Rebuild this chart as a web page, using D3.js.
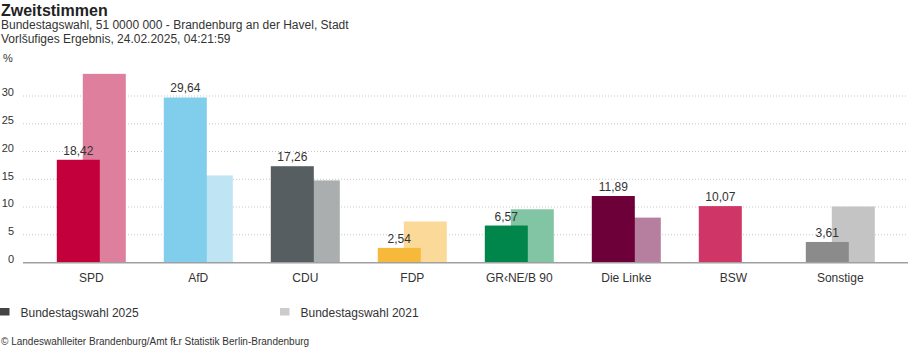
<!DOCTYPE html>
<html>
<head>
<meta charset="utf-8">
<script src="https://cdn.jsdelivr.net/npm/d3@7"></script>
<style>
  body { margin: 0; background: #fff; }
  svg { font-family: "Liberation Sans", Arial, sans-serif; }
</style>
</head>
<body>
<svg id="chart" width="908" height="352"></svg>
<script>
// data
var parties = ['SPD', 'AfD', 'CDU', 'FDP', 'GR‹NE/B 90', 'Die Linke', 'BSW', 'Sonstige'];
var values2025 = [18.42, 29.64, 17.26, 2.54, 6.57, 11.89, 10.07, 3.61];
var values2021 = [33.9, 15.6, 14.7, 7.3, 9.5, 8.0, 0, 10.0];
var colors2025 = ['#c4003c', '#80cdec', '#565e62', '#f6b93b', '#00854a', '#6d0038', '#cf3566', '#8b8b8b'];
var colors2021 = ['#df7f9e', '#bfe5f5', '#aaaeae', '#fbda99', '#81c5a4', '#b77f9f', '#e699b2', '#c4c4c4'];
var yTicks = [0, 5, 10, 15, 20, 25, 30];
var legendItems = [
  { label: 'Bundestagswahl 2025', color: '#444444' },
  { label: 'Bundestagswahl 2021', color: '#cccccc' }
];

var svg = d3.select('#chart');

// header
svg.append('text')
  .attr('x', 1).attr('y', 16)
  .attr('font-size', '16px').attr('font-weight', 'bold').attr('fill', '#222')
  .text('Zweitstimmen');
svg.append('text')
  .attr('x', 1).attr('y', 29)
  .attr('font-size', '12px').attr('fill', '#333')
  .text('Bundestagswahl, 51 0000 000 - Brandenburg an der Havel, Stadt');
svg.append('text')
  .attr('x', 1).attr('y', 43)
  .attr('font-size', '12px').attr('fill', '#333')
  .text('Vorlšufiges Ergebnis, 24.02.2025, 04:21:59');
svg.append('text')
  .attr('x', 3).attr('y', 62)
  .attr('font-size', '11px').attr('fill', '#333')
  .text('%');

// scales
var x = d3.scaleBand()
  .domain(parties)
  .range([37.8, 893.8])
  .padding(0);

var y = d3.scaleLinear()
  .domain([0, 35])
  .range([262, 67.75]);

var barW = 43;
function center(d) { return x(d) + x.bandwidth() / 2; }

// grid
svg.append('g').attr('class', 'grid')
  .selectAll('line')
  .data(yTicks.filter(function(t) { return t > 0; }))
  .enter()
  .append('line')
  .attr('x1', 23).attr('x2', 908)
  .attr('y1', function(d) { return y(d) + 0.5; })
  .attr('y2', function(d) { return y(d) + 0.5; })
  .attr('stroke', '#c8c8c8')
  .attr('stroke-width', 1)
  .attr('stroke-dasharray', '1,2');

// y labels
svg.append('g').attr('class', 'ylabels')
  .selectAll('text')
  .data(yTicks)
  .enter()
  .append('text')
  .attr('x', 14)
  .attr('y', function(d) { return y(d) - 3; })
  .attr('dy', '0.35em')
  .attr('text-anchor', 'end')
  .attr('font-size', '11px')
  .attr('fill', '#333')
  .text(function(d) { return d; });

// 2021 bars (behind)
svg.append('g').attr('class', 'bars2021')
  .selectAll('rect')
  .data(parties)
  .enter()
  .append('rect')
  .attr('x', function(d) { return center(d) - 8.5; })
  .attr('width', barW)
  .attr('y', function(d, i) { return y(values2021[i]); })
  .attr('height', function(d, i) { return y(0) - y(values2021[i]); })
  .attr('fill', function(d, i) { return colors2021[i]; });

// 2025 bars
svg.append('g').attr('class', 'bars2025')
  .selectAll('rect')
  .data(parties)
  .enter()
  .append('rect')
  .attr('x', function(d) { return center(d) - 34.5; })
  .attr('width', barW)
  .attr('y', function(d, i) { return y(values2025[i]); })
  .attr('height', function(d, i) { return y(0) - y(values2025[i]); })
  .attr('fill', function(d, i) { return colors2025[i]; });

// value labels
svg.append('g').attr('class', 'values')
  .selectAll('text')
  .data(parties)
  .enter()
  .append('text')
  .attr('x', function(d) { return center(d) - 13; })
  .attr('y', function(d, i) { return y(values2025[i]) - 5; })
  .attr('text-anchor', 'middle')
  .attr('font-size', '12px')
  .attr('fill', '#333')
  .text(function(d, i) { return d3.format('.2f')(values2025[i]).replace('.', ','); });

// baseline
svg.append('line')
  .attr('x1', 23).attr('x2', 908)
  .attr('y1', y(0) + 0.75).attr('y2', y(0) + 0.75)
  .attr('stroke', '#a0a0a0')
  .attr('stroke-width', 1.5);

// category labels
svg.append('g').attr('class', 'xlabels')
  .selectAll('text')
  .data(parties)
  .enter()
  .append('text')
  .attr('x', function(d) { return center(d); })
  .attr('y', 282)
  .attr('text-anchor', 'middle')
  .attr('font-size', '12px')
  .attr('fill', '#333')
  .text(function(d) { return d; });

// legend
var legend = svg.append('g').attr('class', 'legend')
  .selectAll('g')
  .data(legendItems)
  .enter()
  .append('g')
  .attr('transform', function(d, i) { return 'translate(' + (i * 280) + ',0)'; });

legend.append('rect')
  .attr('x', 0).attr('y', 308)
  .attr('width', 9.5).attr('height', 7.5)
  .attr('fill', function(d) { return d.color; });

legend.append('text')
  .attr('x', 20.5).attr('y', 316.5)
  .attr('font-size', '12px')
  .attr('fill', '#333')
  .text(function(d) { return d.label; });

// source
svg.append('text')
  .attr('x', 1).attr('y', 345)
  .attr('font-size', '10px')
  .attr('fill', '#333')
  .text('© Landeswahlleiter Brandenburg/Amt fŁr Statistik Berlin-Brandenburg');
</script>
</body>
</html>
